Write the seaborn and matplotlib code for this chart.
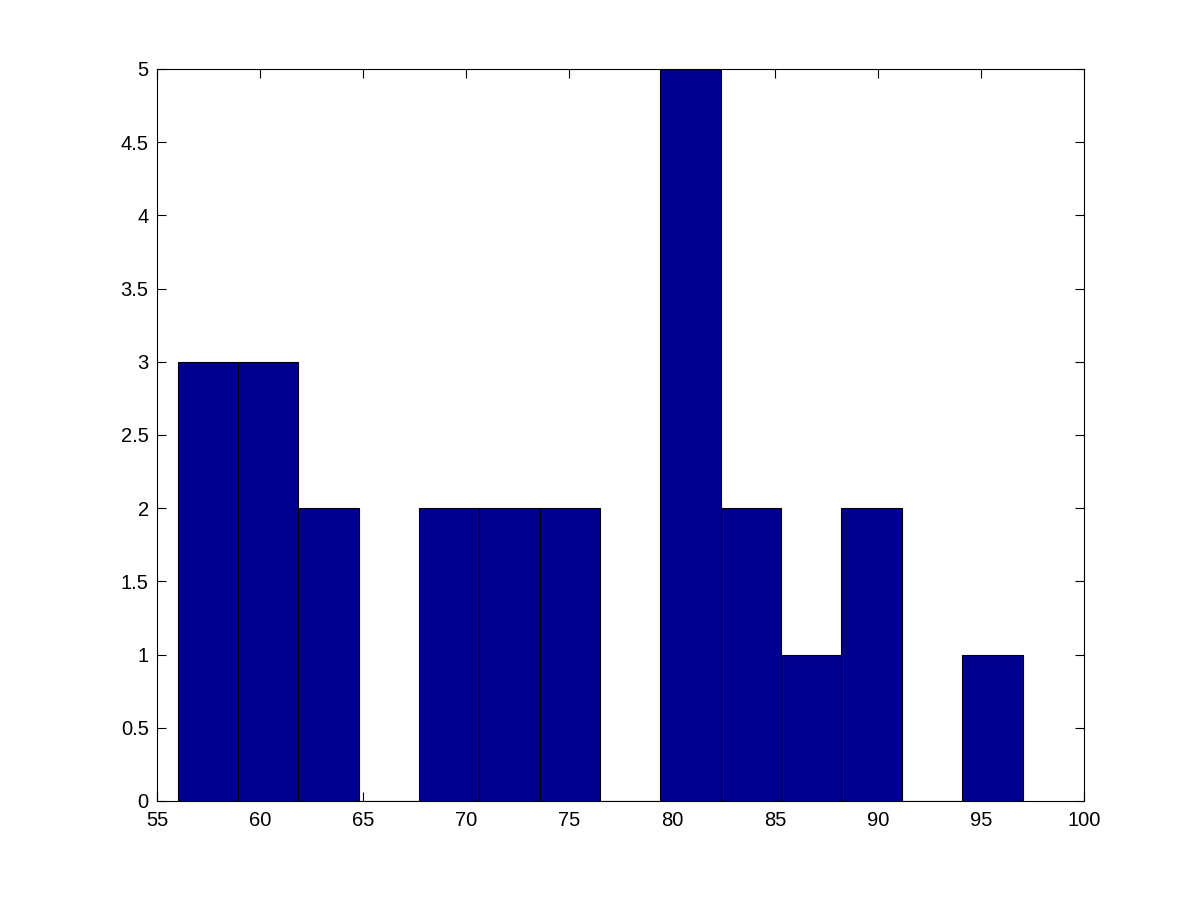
import numpy as np
import matplotlib
matplotlib.use("Agg")
import matplotlib.pyplot as plt
import seaborn as sns

# Data
bin_edges = [56.0, 58.93, 61.86, 64.79, 67.72, 70.65, 73.58, 76.51,
             79.44, 82.37, 85.30, 88.23, 91.16, 94.09, 97.02]
counts = [3, 3, 2, 0, 2, 2, 2, 0, 5, 2, 1, 2, 0, 1]
x_ticks = [55, 60, 65, 70, 75, 80, 85, 90, 95, 100]
y_ticks = [0, 0.5, 1, 1.5, 2, 2.5, 3, 3.5, 4, 4.5, 5]
y_tick_labels = ["0", "0.5", "1", "1.5", "2", "2.5", "3", "3.5", "4", "4.5", "5"]

centers = [(bin_edges[i] + bin_edges[i + 1]) / 2 for i in range(len(counts))]

sns.set_style("white")
plt.rcParams['font.family'] = ['Liberation Sans', 'DejaVu Sans']

fig = plt.figure(figsize=(12, 9.01), dpi=100)
ax = fig.add_axes([0.1308, 0.111, 0.7725, 0.8125])

sns.histplot(x=centers, weights=counts, bins=bin_edges, ax=ax,
             color="#00008F", alpha=1.0, edgecolor="black", linewidth=0.8)

ax.set_xlim(55, 100)
ax.set_ylim(0, 5)
ax.set_xticks(x_ticks)
ax.set_xticklabels([str(t) for t in x_ticks])
ax.set_yticks(y_ticks)
ax.set_yticklabels(y_tick_labels)
ax.set_xlabel("")
ax.set_ylabel("")

ax.tick_params(direction="in", length=6.5, width=0.8, top=True, right=True,
               bottom=True, left=True, labelsize=14.5, colors="black")
ax.tick_params(axis="x", pad=7)
ax.tick_params(axis="y", pad=6)
for s in ax.spines.values():
    s.set_visible(True)
    s.set_color("black")
    s.set_linewidth(0.8)

fig.savefig("out.png", dpi=100, facecolor="white")
